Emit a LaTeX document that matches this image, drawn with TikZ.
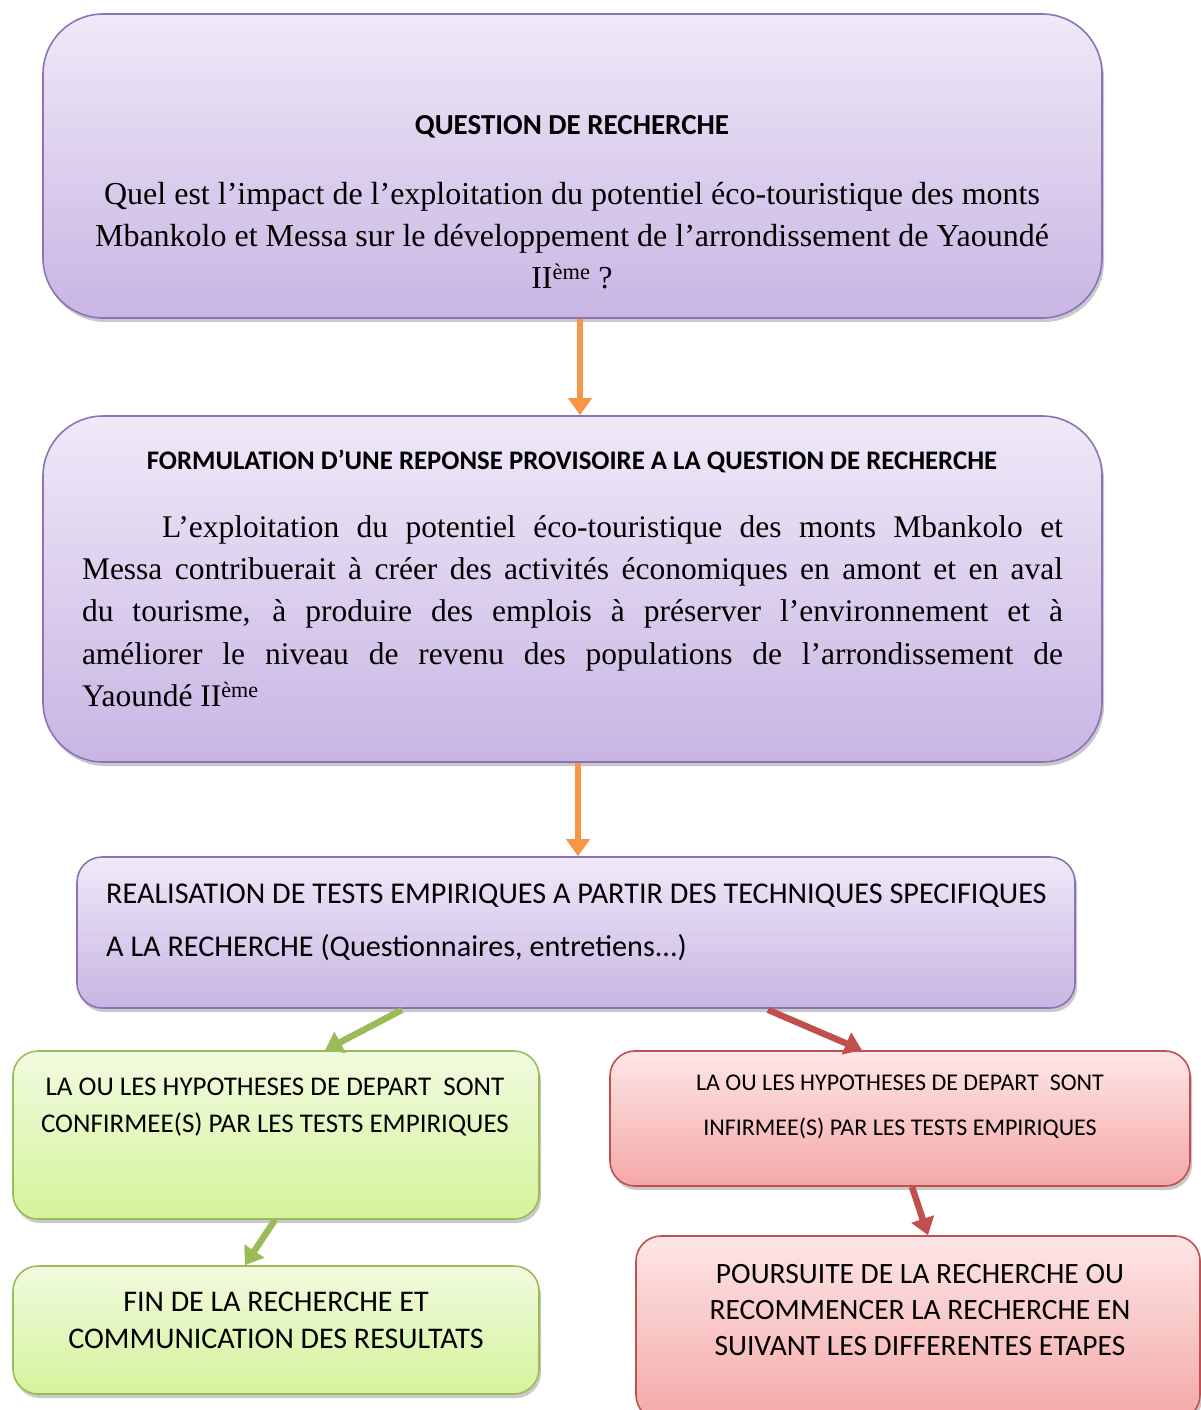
\documentclass[tikz,border=0pt]{standalone}
\usepackage{fontspec}
\setmainfont{Liberation Serif}
\newfontfamily\carl{Carlito}
\usetikzlibrary{arrows.meta,shadows}
\definecolor{purtop}{HTML}{EFE9F8}
\definecolor{purbot}{HTML}{C8B5E3}
\definecolor{purdraw}{HTML}{8A73B6}
\definecolor{grntop}{HTML}{F1FBE0}
\definecolor{grnbot}{HTML}{D4F39B}
\definecolor{grndraw}{HTML}{9BBB59}
\definecolor{redtop}{HTML}{FDE6E6}
\definecolor{redbot}{HTML}{F5A8A8}
\definecolor{reddraw}{HTML}{C0504D}
\definecolor{orng}{HTML}{F79646}
\begin{document}
\begin{tikzpicture}[x=1pt,y=-1pt,
  box/.style={draw, line width=1.6pt, rounded corners=#1, inner sep=0pt,
    drop shadow={shadow xshift=2pt, shadow yshift=-4pt, opacity=0.3, fill=black!70}},
  purplebox/.style={box=#1, draw=purdraw, top color=purtop, bottom color=purbot},
  greenbox/.style={box=25pt, draw=grndraw, top color=grntop, bottom color=grnbot},
  redbox/.style={box=25pt, draw=reddraw, top color=redtop, bottom color=redbot},
  arr/.style={line width=6.5pt, draw=#1, -{Triangle[width=23pt,length=17pt]}}
]
\useasboundingbox (0,0) rectangle (1200,1410);

% boxes
\node[purplebox=60pt, minimum width=1059pt, minimum height=304pt] (q) at (572.5,166) {};
\node[purplebox=60pt, minimum width=1059pt, minimum height=346pt] (f) at (572.5,589) {};
\node[purplebox=25pt, minimum width=998pt, minimum height=151pt] (r) at (576,932.5) {};
\node[greenbox, minimum width=526pt, minimum height=168pt] (g1) at (276,1135) {};
\node[greenbox, minimum width=526pt, minimum height=128pt] (g2) at (276,1330) {};
\node[redbox, minimum width=580pt, minimum height=135pt] (r1) at (900,1118.5) {};
\node[redbox, minimum width=564pt, minimum height=184pt] (r2) at (918,1328) {};

% texts
\node[font=\carl\bfseries\fontsize{29}{34}\selectfont, inner sep=0pt] (qt) at (572,127) {QUESTION DE RECHERCHE};
\node[font=\fontsize{32}{42}\selectfont, align=center, inner sep=0pt] (qb) at (572,236)
 {Quel est l’impact de l’exploitation du potentiel éco-touristique des monts\\
  Mbankolo et Messa sur le développement de l’arrondissement de Yaoundé\\
  II\textsuperscript{ème} ?};

\node[font=\carl\bfseries\fontsize{26.8}{30}\selectfont, inner sep=0pt] (ft) at (572,461)
 {FORMULATION D’UNE REPONSE PROVISOIRE A LA QUESTION DE RECHERCHE};
\node[font=\fontsize{31.5}{42.3}\selectfont, text width=981pt, align=justify, inner sep=0pt] (fb) at (572.5,611)
 {\hspace*{80pt}L’exploitation du potentiel éco-touristique des monts Mbankolo et\linebreak
  Messa contribuerait à créer des activités économiques en amont et en aval\linebreak
  du tourisme, à produire des emplois à préserver l’environnement et à\linebreak
  améliorer le niveau de revenu des populations de l’arrondissement de\linebreak
  Yaoundé II\textsuperscript{ème}};

\node[font=\carl\fontsize{30.2}{53}\selectfont, align=left, inner sep=0pt, anchor=west] (rt) at (106,922)
 {REALISATION DE TESTS EMPIRIQUES A PARTIR DES TECHNIQUES SPECIFIQUES\\
  A LA RECHERCHE (Questionnaires, entretiens...)};

\node[font=\carl\fontsize{27}{37}\selectfont, align=center, inner sep=0pt] (g1t) at (275,1107)
 {LA OU LES HYPOTHESES DE DEPART\ \ SONT\\ CONFIRMEE(S) PAR LES TESTS EMPIRIQUES};
\node[font=\carl\fontsize{30}{37}\selectfont, align=center, inner sep=0pt] (g2t) at (276,1320)
 {FIN DE LA RECHERCHE ET\\ COMMUNICATION DES RESULTATS};
\node[font=\carl\fontsize{24}{45}\selectfont, align=center, inner sep=0pt] (r1t) at (900,1107)
 {LA OU LES HYPOTHESES DE DEPART\ \ SONT\\ INFIRMEE(S) PAR LES TESTS EMPIRIQUES};
\node[font=\carl\fontsize{29.5}{36}\selectfont, align=center, inner sep=0pt] (r2t) at (920,1310)
 {POURSUITE DE LA RECHERCHE OU\\ RECOMMENCER LA RECHERCHE EN\\ SUIVANT LES DIFFERENTES ETAPES};

% connectors
\draw[arr=orng] ([xshift=7.5pt]q.south) -- ([xshift=7.5pt]f.north);
\draw[arr=orng] ([xshift=5.5pt]f.south) -- ([xshift=2pt]r.north);
\draw[arr=grndraw] ([xshift=-174pt,yshift=-1pt]r.south) -- ([xshift=49pt]g1.north);
\draw[arr=reddraw] ([xshift=192pt,yshift=-1pt]r.south) -- ([xshift=-38pt]r1.north);
\draw[arr=grndraw] ([xshift=-1pt]g1.south) -- ([xshift=-31pt]g2.north);
\draw[arr=reddraw] ([xshift=12pt]r1.south) -- ([xshift=10pt]r2.north);
\end{tikzpicture}
\end{document}
